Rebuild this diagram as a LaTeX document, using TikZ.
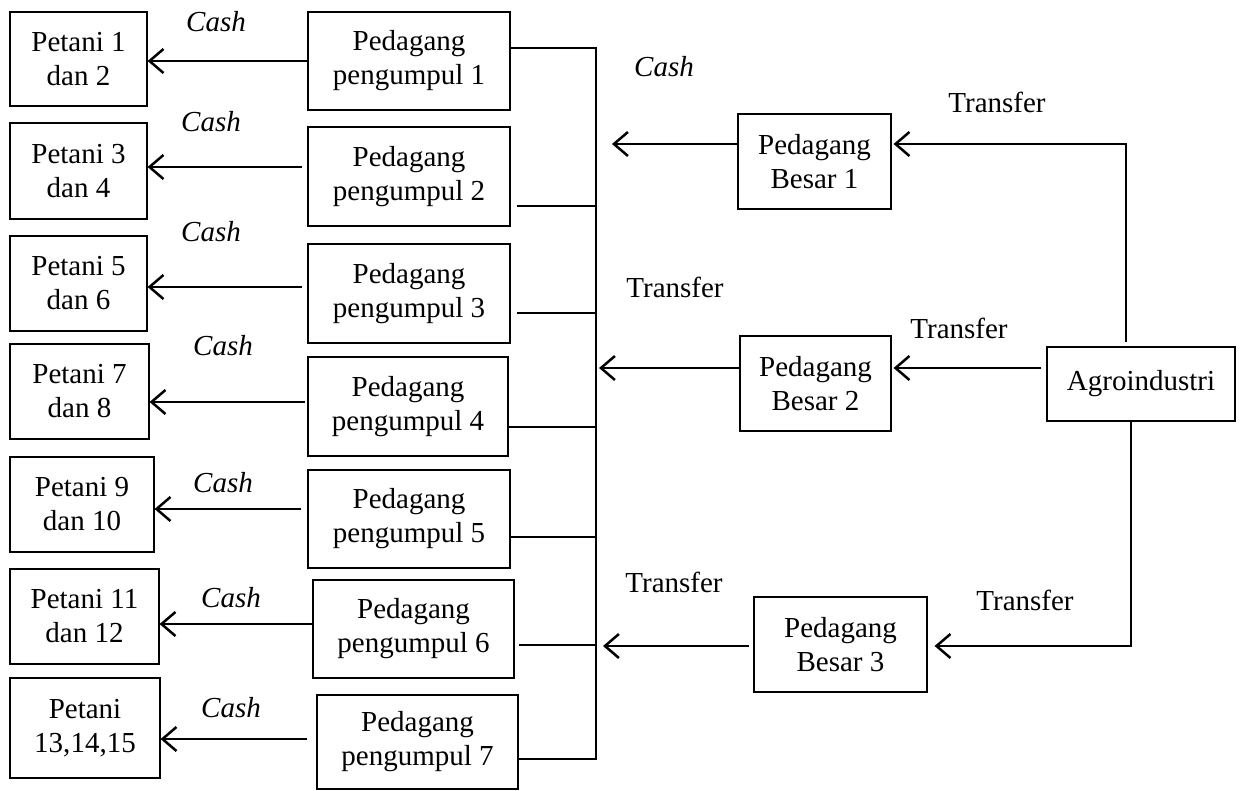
\documentclass[tikz,border=0pt]{standalone}
\usepackage{fontspec}
\setmainfont{Liberation Serif}
\usetikzlibrary{arrows.meta,calc}
\begin{document}
\begin{tikzpicture}[x=1pt,y=-1pt,
 box/.style={draw, line width=1.1pt, rectangle, inner sep=0pt, align=center, font=\fontsize{29}{34}\selectfont},
 conn/.style={line width=2.5pt},
 arr/.style={conn, -{Straight Barb[length=14pt,width=24pt,line width=2.5pt]}},
 lbl/.style={inner sep=0pt, font=\fontsize{29}{34}\selectfont},
 cash/.style={inner sep=0pt, font=\fontsize{29}{34}\selectfont\itshape}]
\useasboundingbox (0,0) rectangle (1242,790);

% Petani boxes
\node[box, minimum width=137pt, minimum height=94pt] (p1) at (78.5,59) {Petani 1\\dan 2};
\node[box, minimum width=137pt, minimum height=96pt] (p2) at (78.5,171) {Petani 3\\dan 4};
\node[box, minimum width=137pt, minimum height=95pt] (p3) at (78.5,283.5) {Petani 5\\dan 6};
\node[box, minimum width=139pt, minimum height=95pt] (p4) at (79.5,391.5) {Petani 7\\dan 8};
\node[box, minimum width=144pt, minimum height=95pt] (p5) at (82,504.5) {Petani 9\\dan 10};
\node[box, minimum width=149pt, minimum height=95pt] (p6) at (84.5,616.5) {Petani 11\\dan 12};
\node[box, minimum width=150pt, minimum height=100pt] (p7) at (85,728) {Petani\\13,14,15};

% Pedagang pengumpul boxes
\node[box, minimum width=202pt, minimum height=98pt] (g1) at (409,61) {Pedagang\\pengumpul 1};
\node[box, minimum width=202pt, minimum height=99pt] (g2) at (409,176.5) {Pedagang\\pengumpul 2};
\node[box, minimum width=202pt, minimum height=99pt] (g3) at (409,293.5) {Pedagang\\pengumpul 3};
\node[box, minimum width=200pt, minimum height=99pt] (g4) at (408,406.5) {Pedagang\\pengumpul 4};
\node[box, minimum width=202pt, minimum height=98pt] (g5) at (409,519) {Pedagang\\pengumpul 5};
\node[box, minimum width=201pt, minimum height=98pt] (g6) at (413.5,629) {Pedagang\\pengumpul 6};
\node[box, minimum width=201pt, minimum height=94pt] (g7) at (417.5,742) {Pedagang\\pengumpul 7};

% Pedagang besar and agroindustri
\node[box, minimum width=153pt, minimum height=95pt] (b1) at (814.5,161.5) {Pedagang\\Besar 1};
\node[box, minimum width=151pt, minimum height=95pt] (b2) at (815.5,383.5) {Pedagang\\Besar 2};
\node[box, minimum width=173pt, minimum height=95pt] (b3) at (840.5,644.5) {Pedagang\\Besar 3};
\node[box, minimum width=188pt, minimum height=74pt] (ag) at (1141,384) {Agroindustri};

% Cash arrows pengumpul -> petani
\coordinate (a1) at (g1.west);
\coordinate (a2) at ([shift={(-5,-9.5)}]g2.west);
\coordinate (a3) at ([shift={(-5,-6.5)}]g3.west);
\coordinate (a4) at ([shift={(-2,-4.5)}]g4.west);
\coordinate (a5) at ([shift={(-6,-10)}]g5.west);
\coordinate (a6) at ([shift={(0,-5)}]g6.west);
\coordinate (a7) at ([shift={(-9,-3)}]g7.west);
\draw[arr] (a1) -- (a1 -| p1.east);
\draw[arr] (a2) -- (a2 -| p2.east);
\draw[arr] (a3) -- (a3 -| p3.east);
\draw[arr] (a4) -- (a4 -| p4.east);
\draw[arr] (a5) -- (a5 -| p5.east);
\draw[arr] (a6) -- (a6 -| p6.east);
\draw[arr] (a7) -- (a7 -| p7.east);

% Bus lines
\coordinate (bus) at (596,0);
\coordinate (c1) at ([shift={(0,-13)}]g1.east);
\coordinate (c2) at ([shift={(6,29.5)}]g2.east);
\coordinate (c3) at ([shift={(6,19.5)}]g3.east);
\coordinate (c4) at ([shift={(0,20.5)}]g4.east);
\coordinate (c5) at ([shift={(0,18)}]g5.east);
\coordinate (c6) at ([shift={(4,16)}]g6.east);
\coordinate (c7) at ([shift={(0,17)}]g7.east);
\draw[conn, line join=miter] (c1) -- (c1 -| bus) -- (c7 -| bus) -- (c7);
\draw[conn] (c2) -- (c2 -| bus);
\draw[conn] (c3) -- (c3 -| bus);
\draw[conn] (c4) -- (c4 -| bus);
\draw[conn] (c5) -- (c5 -| bus);
\draw[conn] (c6) -- (c6 -| bus);

% Pedagang besar -> bus
\coordinate (tip1) at (612,0);
\coordinate (tip2) at (599,0);
\coordinate (tip3) at (603,0);
\coordinate (d1) at ([shift={(0,-17.5)}]b1.west);
\coordinate (d2) at ([shift={(0,-15.5)}]b2.west);
\coordinate (d3) at ([shift={(-4,1.5)}]b3.west);
\draw[arr] (d1) -- (d1 -| tip1);
\draw[arr] (d2) -- (d2 -| tip2);
\draw[arr] (d3) -- (d3 -| tip3);

% Agroindustri -> pedagang besar
\coordinate (e1) at ([shift={(-15,-4)}]ag.north);
\coordinate (e2) at ([shift={(-5,-16)}]ag.west);
\coordinate (e3) at ([shift={(-10,0)}]ag.south);
\draw[arr, line join=miter] (e1) -- (e1 |- d1) -- ([xshift=2]d1 -| b1.east);
\draw[arr] (e2) -- ([xshift=2]e2 -| b2.east);
\draw[arr, line join=miter] (e3) -- (e3 |- d3) -- ([xshift=7]d3 -| b3.east);

% Labels
\node[cash] (l1) at (216,22) {Cash};
\node[cash] (l2) at (211,122) {Cash};
\node[cash] (l3) at (211,232) {Cash};
\node[cash] (l4) at (223,346) {Cash};
\node[cash] (l5) at (223,483) {Cash};
\node[cash] (l6) at (231,598) {Cash};
\node[cash] (l7) at (231,708) {Cash};
\node[cash] (l8) at (664,67) {Cash};
\node[lbl] (t1) at (997,102) {Transfer};
\node[lbl] (t2) at (675,287) {Transfer};
\node[lbl] (t3) at (959,328) {Transfer};
\node[lbl] (t4) at (674,582) {Transfer};
\node[lbl] (t5) at (1025,600) {Transfer};
\end{tikzpicture}
\end{document}
